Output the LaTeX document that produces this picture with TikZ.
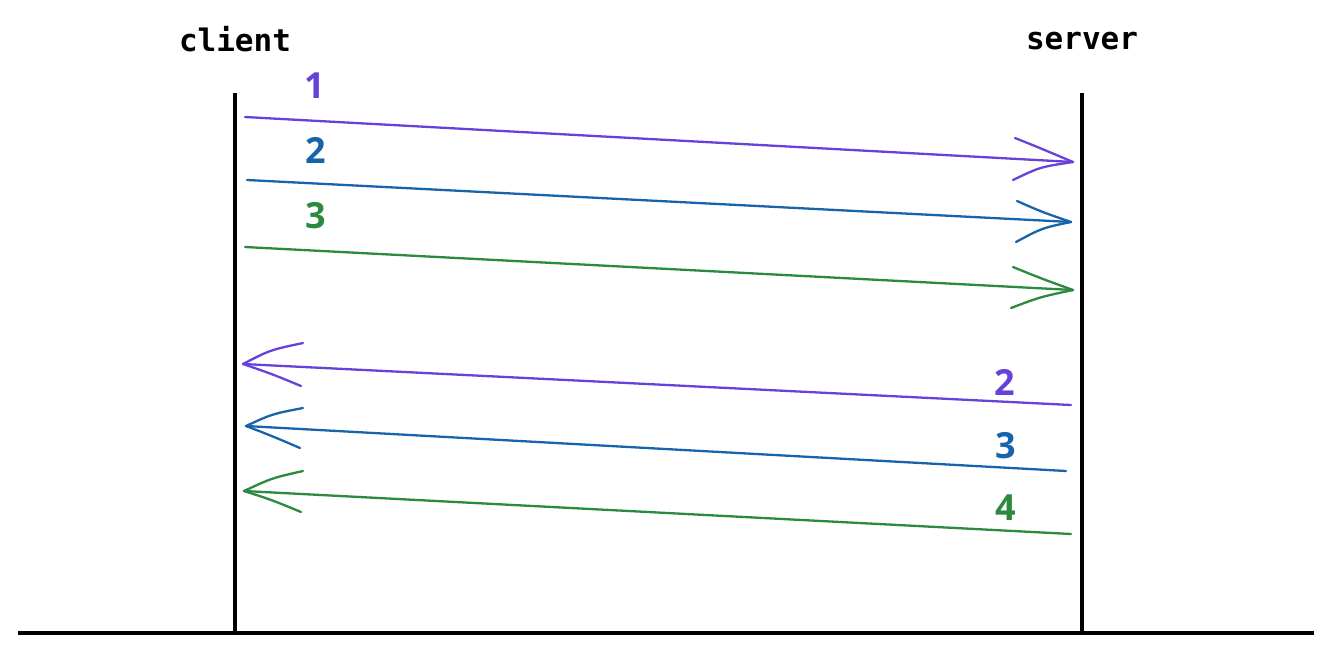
\documentclass[tikz,border=0pt]{standalone}
\usepackage{fontspec}
\newfontfamily\monofont{DejaVu Sans Mono}
\newfontfamily\numfont{Open Sans}
\definecolor{cviolet}{HTML}{6741D9}
\definecolor{cblue}{HTML}{1864AB}
\definecolor{cgreen}{HTML}{2B8A3E}
\begin{document}
\begin{tikzpicture}[x=1pt,y=-1pt,
  lifeline/.style={line width=3.5pt,black},
  msg/.style={line width=2.3pt,line cap=round},
  barb/.style={line width=2.3pt,line cap=round},
  actor/.style={font=\monofont\bfseries\fontsize{31}{34}\selectfont,inner sep=0pt},
  num/.style={font=\numfont\bfseries\fontsize{36}{40}\selectfont,inner sep=0pt}]
\useasboundingbox (0,0) rectangle (1333,654);
% ground
\coordinate (g1) at (18,633);
\coordinate (g2) at (1314,633);
\draw[lifeline] (g1) -- (g2);
% lifelines
\coordinate (ct) at (235,93);
\coordinate (cb) at (235,633);
\coordinate (st) at (1082,93);
\coordinate (sb) at (1082,633);
\draw[lifeline] (ct) -- (cb);
\draw[lifeline] (st) -- (sb);
\node[actor] (client) at (235,39) {client};
\node[actor] (server) at (1082,41) {server};
% forward messages
\coordinate (a1s) at (245,117); \coordinate (a1e) at (1073,162);
\coordinate (a1u) at (1015,138); \coordinate (a1d) at (1013,180);
\draw[msg,cviolet] (a1s) -- (a1e);
\draw[barb,cviolet] (a1u) .. controls (1040,148) .. (a1e);
\draw[barb,cviolet] (a1d) .. controls (1040,167) .. (a1e);
\node[num,text=cviolet] (n1) at (315,86) {1};

\coordinate (a2s) at (247,180); \coordinate (a2e) at (1071,222);
\coordinate (a2u) at (1017,201); \coordinate (a2d) at (1016,242);
\draw[msg,cblue] (a2s) -- (a2e);
\draw[barb,cblue] (a2u) .. controls (1042,212) .. (a2e);
\draw[barb,cblue] (a2d) .. controls (1042,228) .. (a2e);
\node[num,text=cblue] (n2) at (316,150) {2};

\coordinate (a3s) at (245,247); \coordinate (a3e) at (1073,290);
\coordinate (a3u) at (1013,267); \coordinate (a3d) at (1011,308);
\draw[msg,cgreen] (a3s) -- (a3e);
\draw[barb,cgreen] (a3u) .. controls (1040,278) .. (a3e);
\draw[barb,cgreen] (a3d) .. controls (1040,297) .. (a3e);
\node[num,text=cgreen] (n3) at (316,216) {3};

% backward messages
\coordinate (b1s) at (1071,405); \coordinate (b1e) at (243,364);
\coordinate (b1u) at (303,343); \coordinate (b1d) at (301,386);
\draw[msg,cviolet] (b1s) -- (b1e);
\draw[barb,cviolet] (b1u) .. controls (270,350) .. (b1e);
\draw[barb,cviolet] (b1d) .. controls (272,374) .. (b1e);
\node[num,text=cviolet] (m2) at (1005,382) {2};

\coordinate (b2s) at (1066,471); \coordinate (b2e) at (246,426);
\coordinate (b2u) at (303,408); \coordinate (b2d) at (300,448);
\draw[msg,cblue] (b2s) -- (b2e);
\draw[barb,cblue] (b2u) .. controls (272,414) .. (b2e);
\draw[barb,cblue] (b2d) .. controls (272,436) .. (b2e);
\node[num,text=cblue] (m3) at (1006,446) {3};

\coordinate (b3s) at (1071,534); \coordinate (b3e) at (244,491);
\coordinate (b3u) at (303,471); \coordinate (b3d) at (301,512);
\draw[msg,cgreen] (b3s) -- (b3e);
\draw[barb,cgreen] (b3u) .. controls (272,478) .. (b3e);
\draw[barb,cgreen] (b3d) .. controls (272,500) .. (b3e);
\node[num,text=cgreen] (m4) at (1006,508) {4};
\end{tikzpicture}
\end{document}
